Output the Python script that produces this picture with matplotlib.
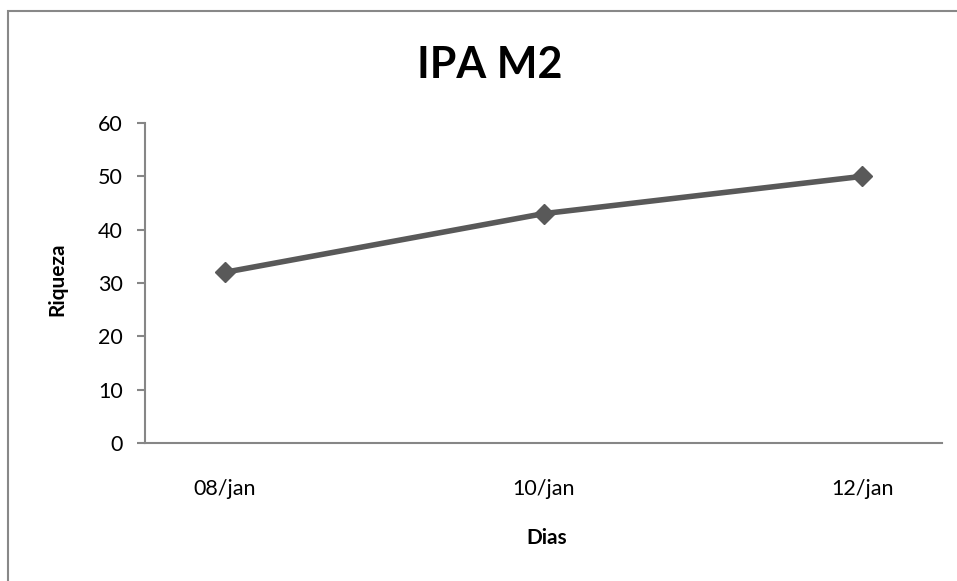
import matplotlib.pyplot as plt
import matplotlib.patches as mpatches

# données
dias = ['08/jan', '10/jan', '12/jan']
riqueza = [32, 43, 50]

plt.rcParams['font.family'] = ['Lato', 'DejaVu Sans']

W, H = 957, 581
fig = plt.figure(figsize=(W / 100, H / 100), dpi=100)
ax = fig.add_axes([145 / W, 1 - 443 / H, (942 - 145) / W, (443 - 123) / H])

cinza = '#595959'
x = list(range(len(dias)))
ax.plot(x, riqueza, color=cinza, linewidth=4, marker='D', markersize=10,
        solid_capstyle='butt')

ax.set_xlim(-0.25, len(dias) - 0.75)
ax.set_ylim(0, 60)
ax.set_yticks(range(0, 61, 10))
ax.set_xticks(x)
ax.set_xticklabels(dias)

for lado in ['top', 'right']:
    ax.spines[lado].set_visible(False)
for lado in ['left', 'bottom']:
    ax.spines[lado].set_color('#868686')
    ax.spines[lado].set_linewidth(1.5)

ax.tick_params(axis='y', direction='out', length=6, width=1.5, color='#868686',
               labelsize=15.5, pad=10)
ax.tick_params(axis='x', length=0, labelsize=15.5, pad=26)

# titres des axes
fig.text(57 / W, 1 - 279 / H, 'Riqueza', rotation=90, ha='center', va='center',
         fontsize=15, fontweight='bold')
fig.text(547 / W, 1 - 538 / H, 'Dias', ha='center', va='center',
         fontsize=15, fontweight='bold')

# titre
fig.text(490 / W, 1 - 78 / H, 'IPA M2', ha='center', va='baseline',
         fontsize=31, fontweight='bold')

# cadre
cadre = mpatches.Rectangle((8 / W, -0.1), 1.2, 1 - 11 / H + 0.1,
                           transform=fig.transFigure, fill=False,
                           edgecolor='#888888', linewidth=1.5, clip_on=False)
fig.patches.append(cadre)

fig.savefig('out.png', dpi=100)
